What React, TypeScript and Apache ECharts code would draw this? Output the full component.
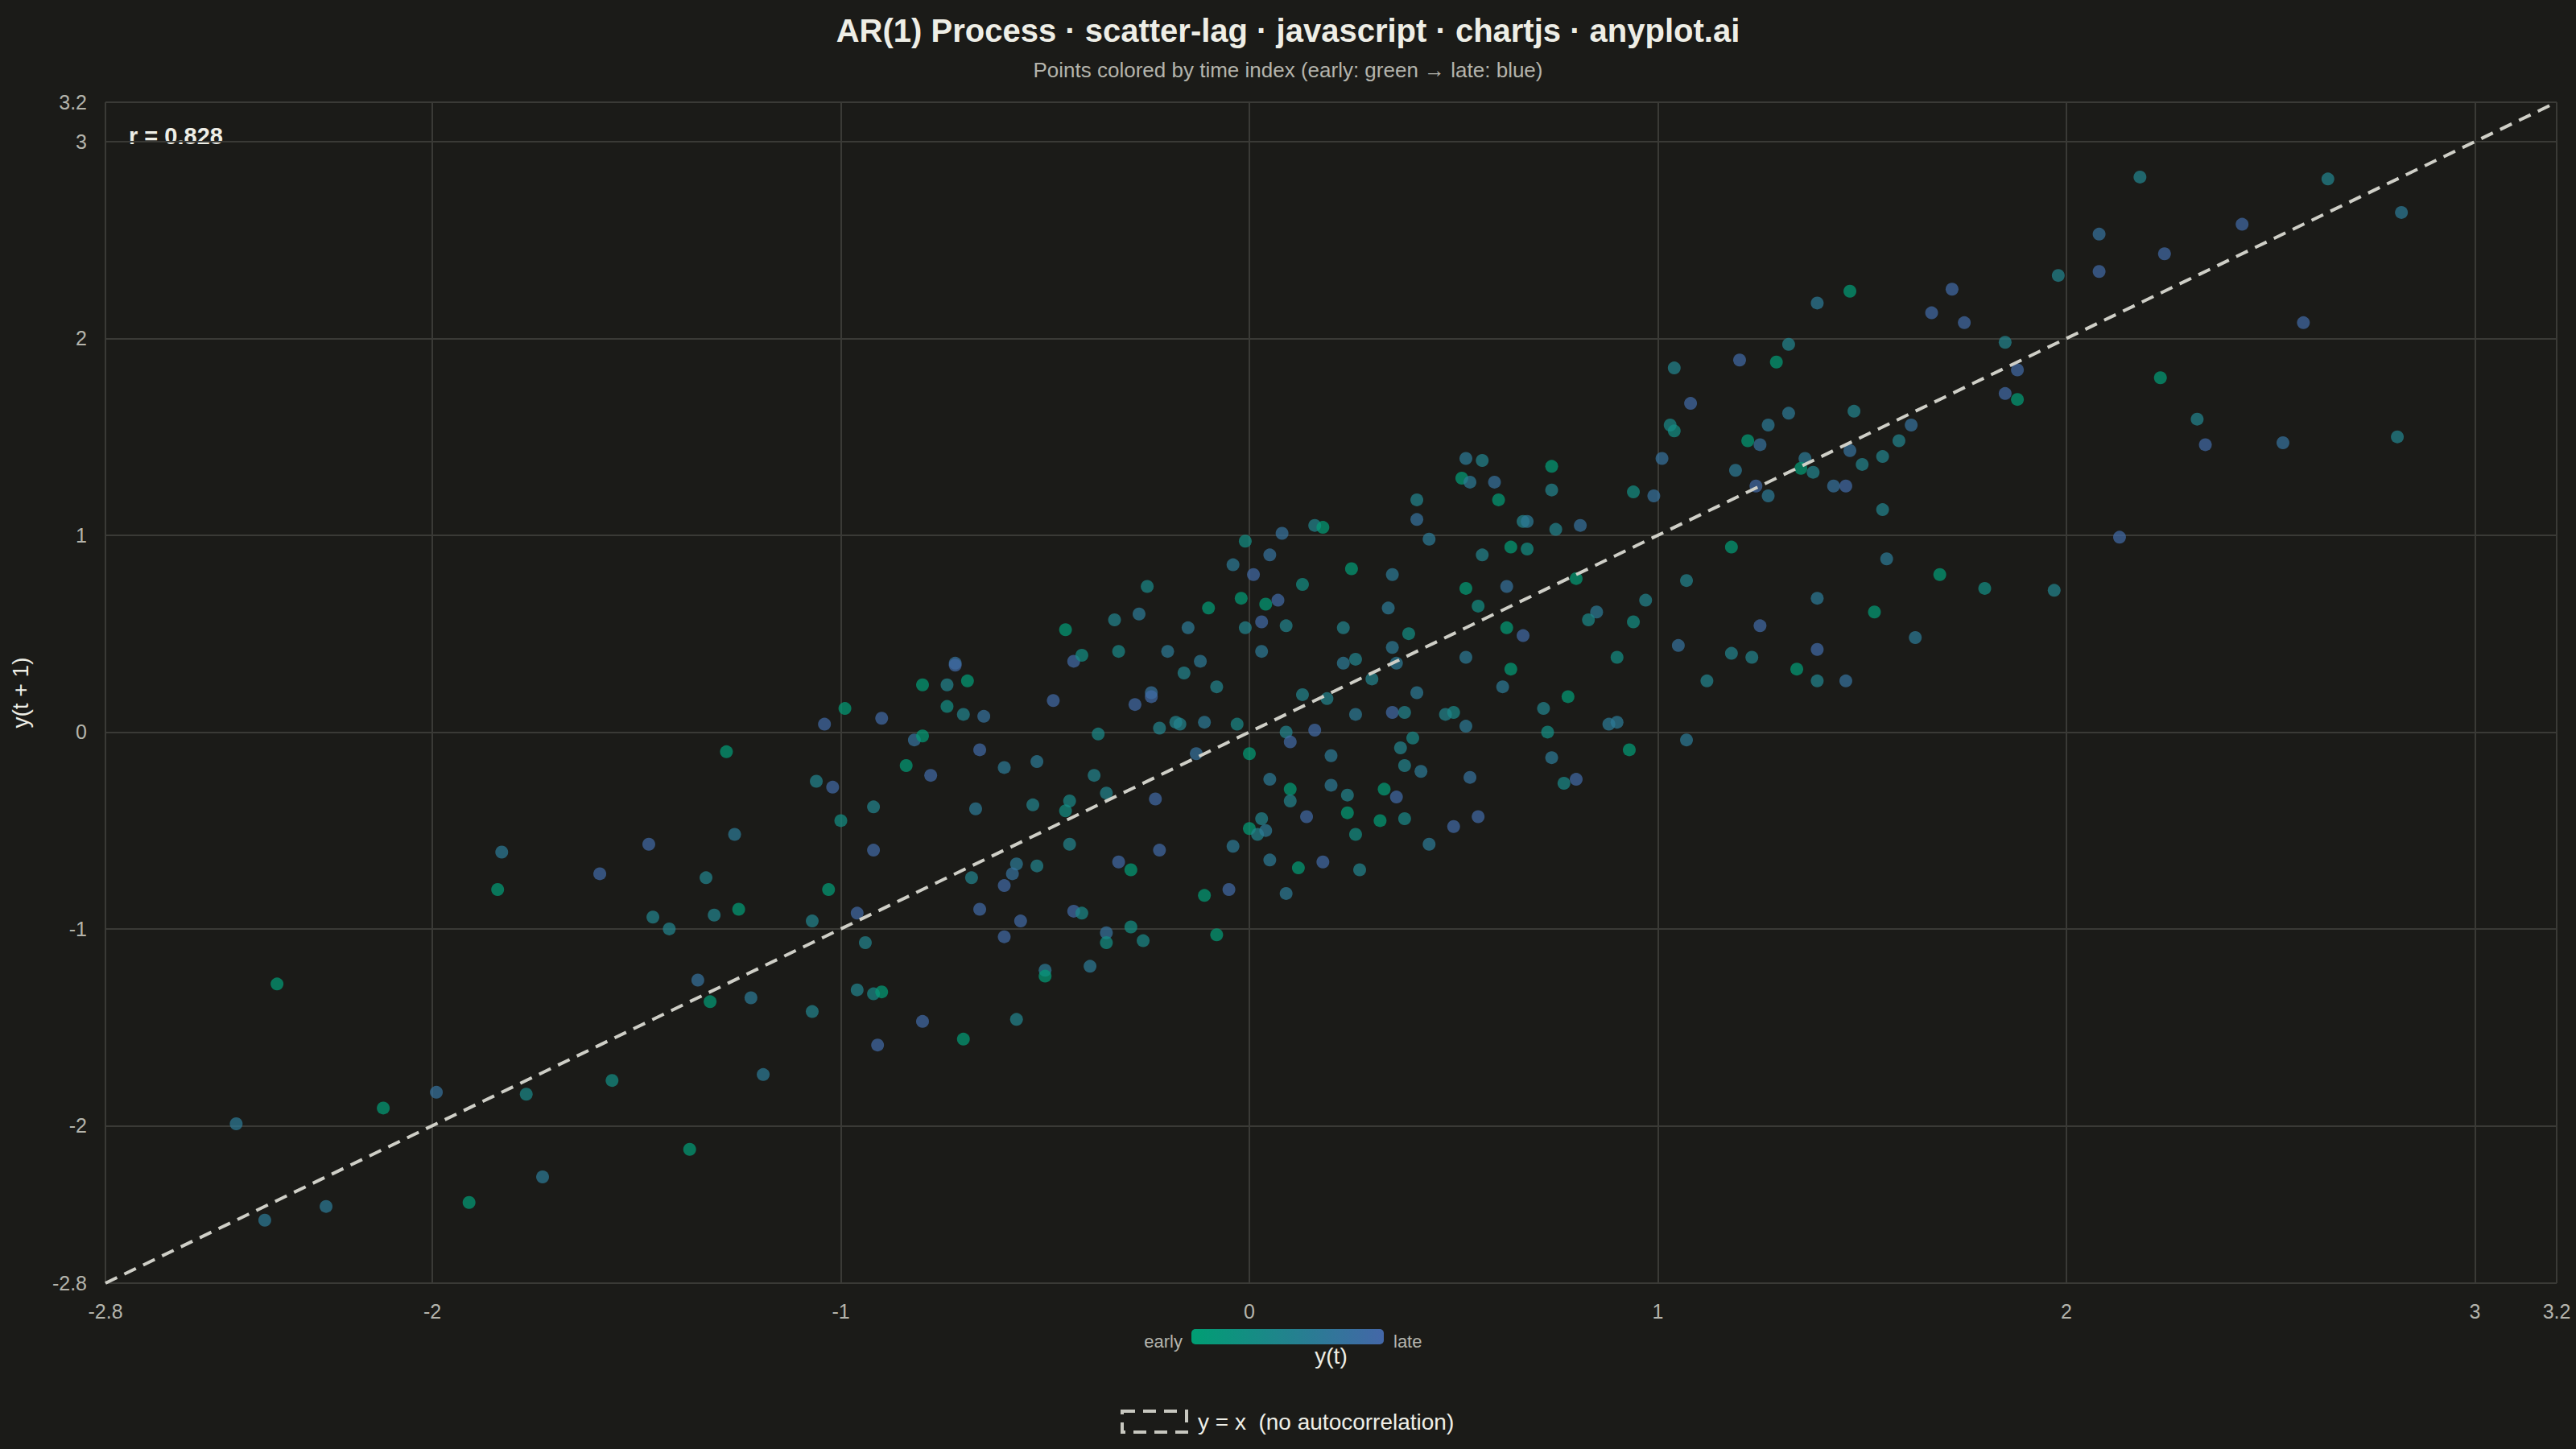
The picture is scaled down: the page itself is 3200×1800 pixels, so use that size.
import React, { useEffect, useRef } from "react";
import * as echarts from "echarts";

// ---- texts ----
const TITLE = "AR(1) Process · scatter-lag · javascript · chartjs · anyplot.ai";
const SUBTITLE = "Points colored by time index (early: green → late: blue)";
const CORR_LABEL = "r = 0.828";
const X_NAME = "y(t)";
const Y_NAME = "y(t + 1)";
const LEGEND_LABEL = "y = x  (no autocorrelation)";
const EARLY_LABEL = "early";
const LATE_LABEL = "late";

// ---- axes ----
const AXIS_MIN = -2.8;
const AXIS_MAX = 3.2;
const xTicks = [-2.8, -2, -1, 0, 1, 2, 3, 3.2];
const yTicks = [-2.8, -2, -1, 0, 1, 2, 3, 3.2];
const refLine = [-2.8, 3.2];

const G = 0.05, GM = 0.3, MG = 0.4, M = 0.5, MB = 0.65, BM = 0.8, B = 0.95;

// y(t)
const yt = [
  -1.28, -1.83, -1.84, -1.59, -1.47, -1.26, -1.33, -1.31, -1.25, -1.46, -1.42, -2.38, -1.35, -1.32, -1.22, -1.19, -2.48, -2.12, -1.99, -1.77, -1.56, -1.37, -1.73, -1.91, -2.26, -2.41,
  -0.45, -0.43, -0.41, -0.72, -0.72, -0.80, -0.74, -0.69, -0.74, -0.70, -0.65, -0.48, -0.99, -1.04, -0.90, -0.82, -0.80, -0.84, -0.78, -0.66, -0.60, -0.52, -1.06, -1.02, -0.92, -1.00, -0.67, -0.53,
  -0.44, -0.45, -0.44, -0.92, -0.57, -0.58, -0.52, -0.68, -0.60, -1.03, -0.96, -1.07, -0.66, -0.56, -0.43, -0.41, -0.60, -0.94, -0.50, -0.50, -0.96, -0.92, -0.90, -1.07, -0.80, -0.57, -0.91, -0.70,
  -0.39, 0.16, 0.18, 0.08, -0.01, 0.05, -0.04, 0.01, 0.25, 0.13,
  -0.25, -0.02, 0.04, 0.07, -0.10, -0.27, -0.33, -0.15, -0.01, 0.03,
  0.09, 0.23, -0.32, -0.20, 0.03, -0.12, -0.16, 0.23, 0.26, 0.30,
  -0.08, -0.24, -0.24, -0.28, 0.13, 0.19, 0.26, -0.37, -0.22, -0.18,
  -0.17, -0.11, -0.03, 0.09, 0.10, 0.16, -0.13, 0.00, 0.20, -0.38,
  0.05, 0.20, -0.35, -0.23, 0.10, 0.10, 0.24, 0.24, 0.14, 0.03,
  0.00, 0.02, 0.04, 0.26, -0.04, -0.22, 0.05, 0.18, 0.12, 0.27,
  -0.32, -0.29, -0.05, -0.11, 0.09, -0.35, -0.35, -0.29, -0.26, -0.08,
  0.53, 0.57, 0.52, 0.54, 0.60, 0.74, 0.74, 0.94, 0.99, 0.41,
  0.61, 0.41, 0.67, 0.68, 0.75, 0.81, 0.44, 0.57, 0.64, 0.68,
  0.35, 0.53, 0.63, 0.80, 0.56, 0.34, 0.97, 0.85, 0.83, 0.94,
  0.39, 0.63, 0.67, 0.35, 0.36, 0.53, 0.64, 0.90, 0.41, 0.62,
  0.78, 0.35, 0.38, 0.48, 0.50, 0.53, 0.72, 0.88, 0.90, 0.73,
  0.40, 0.37, 0.93, 0.74, 0.38, 0.42, 0.54, 0.77, 0.80, 0.33,
  0.36, 0.32, 0.38, 0.56, 0.50, 0.44,
  1.39, 1.47, 1.67, 1.72, 1.75, 1.32, 1.20, 1.29, 1.04, 1.08,
  1.32, 1.48, 1.03, 1.04, 1.27, 1.62, 1.22, 1.25, 1.59, 1.01,
  1.47, 1.36, 1.35, 1.38, 1.50, 1.55, 1.19, 1.24, 1.27, 1.43,
  1.46, 1.55, 1.18, 1.56, 1.69, 1.80, 1.07, 1.39, 1.53, 1.25,
  1.63, 1.05, 1.39, 1.18, 1.23, 1.34, 1.12, 1.39, 1.46, 1.07,
  2.18, 2.64, 2.82, 2.43, 2.08, 2.24, 1.98, 2.08, 2.58, 1.85, 1.88, 1.85, 1.88, 2.23, 2.32, 2.34, 2.53, 2.81, 2.13, 1.97,
];

// y(t + 1)
const yt1 = [
  -0.10, -0.61, -0.80, -0.72, -0.57, -0.52, -0.74, -0.93, -0.90, -0.94, -1.00, -1.28, -1.26, -1.37, -1.35, -1.74, -1.99, -1.91, -1.83, -1.84, -1.77, -2.12, -2.26, -2.39, -2.41, -2.48,
  0.52, 0.36, 0.39, 0.35, 0.34, 0.24, 0.24, 0.26, 0.13, 0.09, 0.08, 0.16, 0.12, 0.04, 0.07, -0.04, -0.02, -0.17, -0.22, -0.09, -0.18, -0.15, -0.25, -0.28, -0.38, -0.45, -0.39, -0.37,
  -0.35, -0.40, -0.57, -0.60, -0.67, -0.72, -0.68, -0.74, -0.78, -0.80, -0.92, -0.96, -0.90, -0.96, -0.91, -0.92, -1.04, -1.07, -1.21, -1.24, -1.31, -1.33, -1.32, -1.42, -1.47, -1.46, -1.59, -1.56,
  -1.19, 1.05, 1.04, 1.01, 0.97, 0.90, 0.85, 0.80, 0.83, 0.75,
  0.74, 0.68, 0.65, 0.67, 0.63, 0.60, 0.57, 0.53, 0.53, 0.56,
  0.54, 0.53, 0.41, 0.41, 0.41, 0.36, 0.30, 0.35, 0.37, 0.27,
  0.23, 0.20, 0.18, 0.14, 0.19, 0.17, 0.09, -0.01, 0.02, 0.05,
  0.04, 0.05, 0.04, 0.00, -0.05, 0.01, -0.11, -0.11, -0.12, -0.22,
  -0.24, -0.27, -0.31, -0.34, -0.29, -0.35, -0.32, -0.41, -0.43, -0.44,
  -0.49, -0.52, -0.50, -0.52, -0.58, -0.60, -0.65, -0.66, -0.69, -0.70,
  -0.66, -0.70, -0.80, -0.83, -0.82, -1.02, -1.07, -0.99, -1.06, -1.03,
  1.39, 1.38, 1.29, 1.27, 1.27, 1.35, 1.23, 1.22, 1.20, 1.18,
  1.18, 1.08, 1.07, 1.07, 1.03, 1.05, 0.98, 0.90, 0.94, 0.93,
  0.80, 0.73, 0.74, 0.78, 0.64, 0.63, 0.67, 0.61, 0.57, 0.56,
  0.50, 0.53, 0.49, 0.43, 0.35, 0.38, 0.32, 0.38, 0.20, 0.23,
  0.18, 0.10, 0.10, 0.09, 0.10, 0.03, 0.12, 0.04, 0.05, 0.00,
  -0.03, -0.08, -0.09, -0.13, -0.17, -0.20, -0.23, -0.26, -0.24, -0.29,
  -0.33, -0.45, -0.44, -0.43, -0.48, -0.57,
  2.18, 2.24, 2.13, 2.25, 2.08, 1.97, 1.89, 1.88, 1.85, 1.67,
  1.62, 1.63, 1.56, 1.53, 1.56, 1.56, 1.48, 1.46, 1.48, 1.39,
  1.43, 1.39, 1.34, 1.32, 1.36, 1.40, 1.33, 1.25, 1.20, 1.25,
  1.25, 1.13, 0.94, 0.88, 0.80, 0.73, 0.77, 0.68, 0.61, 0.54,
  0.48, 0.44, 0.42, 0.40, 0.38, 0.32, 0.26, 0.26, 0.26, -0.04,
  2.82, 2.81, 2.64, 2.58, 2.53, 2.43, 2.32, 2.34, 2.08, 1.98, 1.84, 1.72, 1.69, 1.80, 1.59, 1.46, 1.47, 1.50, 0.99, 0.72,
];

// time shade of each point
const shade = [
  G, MB, G, B, B, MB, M, M, G, M, M, G, BM, G, MB, MB, MB, G, BM, MG, GM, G, MB, G, MB, MB,
  G, B, GM, BM, B, G, M, G, GM, M, BM, B, G, B, B, BM, G, G, B, B, MB, MB, M, B, M, GM, MB, M,
  MG, GM, M, B, MB, BM, M, M, B, G, B, M, B, B, B, MG, B, M, MB, G, M, MG, G, M, B, M, B, G,
  MB, M, G, BM, GM, BM, MB, B, G, GM,
  MG, G, G, B, G, MB, M, MB, M, B,
  M, M, MG, MB, MB, MB, M, MB, M, M,
  M, BM, B, B, M, M, MB, MG, M, M,
  M, MB, MG, M, B, B, BM, G, MB, M,
  MB, MB, M, B, G, M, M, G, B, M,
  G, M, MB, GM, MB, B, MB, B, G, M,
  B, G, B, G, MB, BM, GM, GM, MG, G,
  MB, M, G, MB, BM, G, M, GM, BM, M,
  G, BM, M, MB, M, BM, MB, M, G, GM,
  MB, G, BM, G, GM, MB, M, MB, MG, GM,
  GM, G, B, MB, MB, MB, G, GM, MB, MB,
  G, B, M, M, MG, MB, M, MB, MB, GM,
  MG, M, G, MB, M, MB, BM, MG, B, G,
  B, G, MG, B, B, MB,
  MB, G, B, B, B, M, B, G, M, B,
  MB, M, MG, GM, MB, BM, G, BM, M, BM,
  BM, MB, G, M, M, M, MB, B, MB, BM,
  B, M, G, MB, G, GM, M, MB, G, B,
  MB, BM, B, M, M, G, M, M, BM, MB,
  M, M, MB, B, BM, B, M, B, B, M, B, B, G, G, M, B, BM, M, B, M,
];

const FONT = '"Liberation Sans", Arial, Helvetica, sans-serif';
const BG = "#1b1b18";
const GRID = "#3a3a36";
const LABEL = "#b4b4ac";
const LIGHT = "#eeeee6";
const GREEN = "#009E73";
const BLUE = "#4467A8";

export default function App() {
  const ref = useRef<HTMLDivElement>(null);

  useEffect(() => {
    if (!ref.current) return;
    const chart = echarts.init(ref.current, undefined, { renderer: "svg" });
    const points = yt.map((x, i) => [x, yt1[i], shade[i]]);

    const axisCommon = (ticks: number[]) => ({
      type: "value",
      min: AXIS_MIN,
      max: AXIS_MAX,
      axisLine: { show: false },
      axisTick: { show: true, length: 16, customValues: ticks, lineStyle: { color: GRID, width: 2 } },
      splitLine: { show: true, showMinLine: true, showMaxLine: true, lineStyle: { color: GRID, width: 2 } },
    });

    const option: any = {
      animation: false,
      backgroundColor: BG,
      textStyle: { fontFamily: FONT },
      title: [
        {
          text: TITLE,
          left: "center",
          top: 13,
          textStyle: { color: LIGHT, fontSize: 40, fontWeight: "bold", fontFamily: FONT },
        },
        {
          text: SUBTITLE,
          left: "center",
          top: 69,
          textStyle: { color: LABEL, fontSize: 26, fontWeight: "normal", fontFamily: FONT },
        },
      ],
      grid: { left: 131, right: 24, top: 127, bottom: 206, containLabel: false },
      xAxis: {
        ...axisCommon(xTicks),
        name: X_NAME,
        nameLocation: "middle",
        nameGap: 76,
        nameTextStyle: { color: LIGHT, fontSize: 28, fontFamily: FONT },
        axisLabel: { customValues: xTicks, color: LABEL, fontSize: 25, fontFamily: FONT, margin: 22 },
      },
      yAxis: {
        ...axisCommon(yTicks),
        name: Y_NAME,
        nameLocation: "middle",
        nameGap: 92,
        nameTextStyle: { color: LIGHT, fontSize: 28, fontFamily: FONT },
        axisLabel: { customValues: yTicks, color: LABEL, fontSize: 25, fontFamily: FONT, margin: 23 },
      },
      visualMap: {
        show: false,
        type: "continuous",
        dimension: 2,
        min: 0,
        max: 1,
        seriesIndex: 0,
        inRange: { color: [GREEN, BLUE] },
      },
      series: [
        {
          type: "scatter",
          data: points,
          symbolSize: 16,
          itemStyle: { opacity: 0.72 },
          z: 2,
        },
        {
          type: "line",
          data: refLine.map((v) => [v, v]),
          symbol: "none",
          showSymbol: false,
          silent: true,
          lineStyle: { color: "#cfcfc7", width: 4, type: [16, 10] },
          z: 3,
        },
      ],
      graphic: [
        {
          type: "text",
          x: 160,
          y: 169,
          style: { text: CORR_LABEL, fill: LIGHT, font: `bold 29px ${FONT}`, align: "left", verticalAlign: "middle" },
        },
        {
          type: "rect",
          shape: { x: 1480, y: 1651, width: 239, height: 19, r: 5 },
          style: {
            fill: new echarts.graphic.LinearGradient(0, 0, 1, 0, [
              { offset: 0, color: GREEN },
              { offset: 1, color: BLUE },
            ]),
          },
        },
        {
          type: "text",
          x: 1469,
          y: 1666,
          style: { text: EARLY_LABEL, fill: LABEL, font: `22px ${FONT}`, align: "right", verticalAlign: "middle" },
        },
        {
          type: "text",
          x: 1731,
          y: 1666,
          style: { text: LATE_LABEL, fill: LABEL, font: `22px ${FONT}`, align: "left", verticalAlign: "middle" },
        },
        {
          type: "rect",
          shape: { x: 1394, y: 1753, width: 80, height: 26 },
          style: { fill: "rgba(0,0,0,0)", stroke: "#c8c8c0", lineWidth: 4, lineDash: [16, 10] },
        },
        {
          type: "text",
          x: 1488,
          y: 1766,
          style: { text: LEGEND_LABEL, fill: LIGHT, font: `28px ${FONT}`, align: "left", verticalAlign: "middle" },
        },
      ],
    };

    chart.setOption(option);
    return () => chart.dispose();
  }, []);

  return (
    <div
      ref={ref}
      style={{ position: "fixed", left: 0, top: 0, width: "3200px", height: "1800px" }}
    />
  );
}
